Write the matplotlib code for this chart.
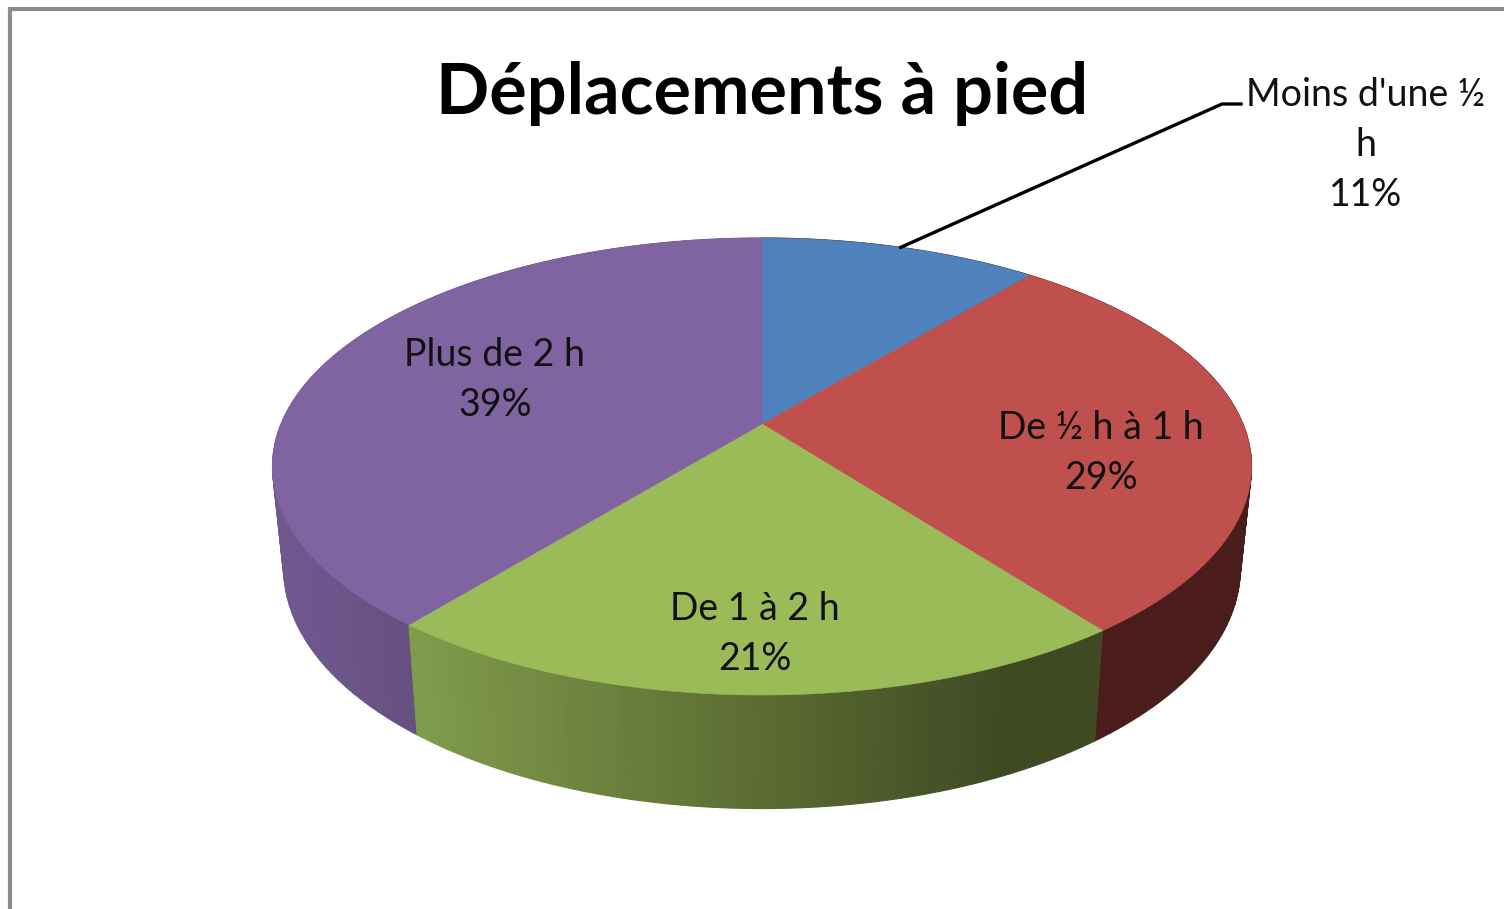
# 3D looking pie chart, drawn by hand because matplotlib has no perspective pie.

import matplotlib.pyplot as plt
from matplotlib.colors import to_rgb
import numpy as np

categories = ["Moins d'une ½\nh", "De ½ h à 1 h", "De 1 à 2 h", "Plus de 2 h"]
shares = [11.0, 28.7, 21.1, 39.2]
title = "Déplacements à pied"

top_colors = ["#4f81bd", "#c0504d", "#9bbb59", "#8064a2"]
font = "Lato"

# perspective of the disc, in pixels
cx, cy = 762, 424
a, b, k = 481, 220.6, 0.186
depth_sx, depth_sy, depth_dy = 0.977, 1.05, 100

fig = plt.figure(figsize=(15.04, 9.09), dpi=100)
ax = fig.add_axes([0, 0, 1, 1])
ax.set_xlim(0, 1504)
ax.set_ylim(909, 0)
ax.axis("off")


def top_edge(t):
    # t is the angle clockwise from 12 o'clock
    w = 1 + k * np.cos(t)
    return a * np.sin(t) / w, b * np.cos(t) / w


def rim(t):
    x, y = top_edge(t)
    return cx + x, cy - y


def rim_low(t):
    x, y = top_edge(t)
    return cx + depth_sx * x, cy - depth_sy * y + depth_dy


def ramp(x, stops, colors):
    cols = np.array([to_rgb(c) for c in colors])
    return tuple(np.interp(x, stops, cols[:, j]) for j in range(3))


def side_color(i, x):
    if i == 2:
        return ramp(x, [420, 760, 1000, 1100], ["#7f9b4b", "#5c6b32", "#3f4a23", "#3f4a23"])
    if i == 3:
        return ramp(x, [280, 420], ["#70588f", "#654f7f"])
    return to_rgb("#4a1d1c")


edges = np.radians(np.cumsum([0] + shares) * 3.6)

# sides first, back slices before the front one
for i in [0, 1, 3, 2]:
    ts = np.linspace(edges[i], edges[i + 1], 90)
    for t0, t1 in zip(ts[:-1], ts[1:]):
        x0, y0 = rim(t0)
        x1, y1 = rim(t1)
        x2, y2 = rim_low(t1)
        x3, y3 = rim_low(t0)
        c = side_color(i, (x0 + x1) / 2)
        ax.fill([x0, x1, x2, x3], [y0, y1, y2, y3], color=c, lw=0.8, zorder=2)

# top of the disc
for i, c in enumerate(top_colors):
    ts = np.linspace(edges[i], edges[i + 1], 200)
    x, y = rim(ts)
    ax.fill(np.r_[cx, x], np.r_[cy, y], color=c, lw=0.4, zorder=3)

# labels
label_pos = [(1366, 145), (1101, 453), (755, 634), (495, 380)]
for name, share, pos in zip(categories, shares, label_pos):
    ax.text(pos[0], pos[1], "%s\n%d%%" % (name, round(share)), ha="center", va="center",
            fontsize=27, family=font, color="#111111", linespacing=1.49, zorder=5)

ax.text(762, 93, title, ha="center", va="center", fontsize=50.5, family=font,
        fontweight="bold", color="black", zorder=5)

# leader line for the first slice
lx, ly = rim((edges[0] + edges[1]) / 2)
ax.plot([lx, 1222, 1241], [ly, 104, 104], color="black", lw=2.4, zorder=4)

# frame of the chart area
ax.plot([10, 10, 1504], [909, 9, 9], color="#8c8c8c", lw=3, solid_joinstyle="miter", zorder=6)

plt.savefig("out.png", dpi=100)
